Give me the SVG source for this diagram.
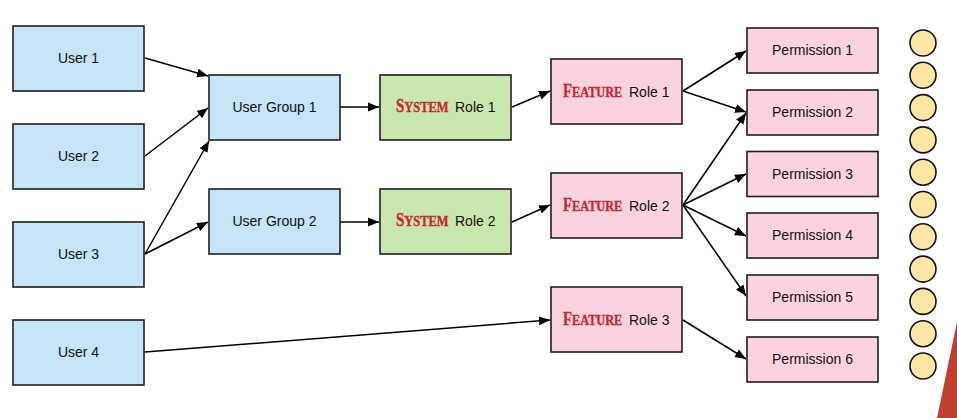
<svg xmlns="http://www.w3.org/2000/svg" width="957" height="418" viewBox="0 0 957 418">
<defs>
<style>
.box{stroke:#1f1f1f;stroke-width:1.6}
.user{fill:#c5e4f6}
.sys{fill:#c9e6ac}
.feat{fill:#f9d2de}
.lbl{font-family:"Liberation Sans",Arial,sans-serif;font-size:14px;fill:#111;text-anchor:middle}
.rl{font-family:"Liberation Sans",Arial,sans-serif;font-size:14px;fill:#111}
.red{font-family:"Liberation Serif","Times New Roman",serif;font-weight:bold;fill:#c42a36;stroke:#c42a36;stroke-width:0.4}
.conn line{stroke:#000;stroke-width:1.5;marker-end:url(#arr)}
.dot{fill:#fde6a3;stroke:#111;stroke-width:1.6}
</style>
<marker id="arr" markerUnits="userSpaceOnUse" markerWidth="12" markerHeight="10" refX="11" refY="4.5" orient="auto" viewBox="0 0 12 9">
<path d="M0,0 L11,4.5 L0,9 z" fill="#000"/>
</marker>
</defs>
<rect width="957" height="418" fill="#fff"/>

<g id="connectors" class="conn">
<line x1="145" y1="58" x2="208" y2="76"/>
<line x1="145" y1="156" x2="208" y2="108"/>
<line x1="145" y1="254" x2="209" y2="141"/>
<line x1="145" y1="254" x2="208" y2="222"/>
<line x1="145" y1="352" x2="550" y2="320"/>
<line x1="340" y1="107" x2="379" y2="107"/>
<line x1="340" y1="222" x2="379" y2="222"/>
<line x1="512" y1="107" x2="550" y2="91"/>
<line x1="512" y1="222" x2="550" y2="205"/>
<line x1="683" y1="91" x2="746" y2="51"/>
<line x1="683" y1="91" x2="746" y2="112"/>
<line x1="683" y1="205" x2="746" y2="113"/>
<line x1="683" y1="205" x2="746" y2="174"/>
<line x1="683" y1="205" x2="746" y2="236"/>
<line x1="683" y1="205" x2="746" y2="296"/>
<line x1="683" y1="320" x2="746" y2="359"/>
</g>

<g id="user1"><rect class="box user" x="13" y="26" width="131" height="65"/><text class="lbl" x="78.5" y="63">User 1</text></g>
<g id="user2"><rect class="box user" x="13" y="124" width="131" height="65"/><text class="lbl" x="78.5" y="161">User 2</text></g>
<g id="user3"><rect class="box user" x="13" y="222" width="131" height="65"/><text class="lbl" x="78.5" y="259">User 3</text></g>
<g id="user4"><rect class="box user" x="13" y="320" width="131" height="65"/><text class="lbl" x="78.5" y="357">User 4</text></g>

<g id="usergroup1"><rect class="box user" x="209" y="75" width="131" height="65"/><text class="lbl" x="274.5" y="112">User Group 1</text></g>
<g id="usergroup2"><rect class="box user" x="209" y="189" width="131" height="65"/><text class="lbl" x="274.5" y="226">User Group 2</text></g>

<g id="systemrole1"><rect class="box sys" x="380" y="75" width="131" height="65"/>
<text class="red" transform="translate(396,112) scale(0.83,1)"><tspan font-size="18">S</tspan><tspan font-size="15">YSTEM</tspan></text>
<text class="rl" x="455" y="112">Role 1</text></g>
<g id="systemrole2"><rect class="box sys" x="380" y="189" width="131" height="65"/>
<text class="red" transform="translate(396,226) scale(0.83,1)"><tspan font-size="18">S</tspan><tspan font-size="15">YSTEM</tspan></text>
<text class="rl" x="455" y="226">Role 2</text></g>

<g id="featurerole1"><rect class="box feat" x="551" y="59" width="131" height="65"/>
<text class="red" transform="translate(563,96.5) scale(0.82,1)"><tspan font-size="18">F</tspan><tspan font-size="15">EATURE</tspan></text>
<text class="rl" x="629" y="96.5">Role 1</text></g>
<g id="featurerole2"><rect class="box feat" x="551" y="173" width="131" height="65"/>
<text class="red" transform="translate(563,210.5) scale(0.82,1)"><tspan font-size="18">F</tspan><tspan font-size="15">EATURE</tspan></text>
<text class="rl" x="629" y="210.5">Role 2</text></g>
<g id="featurerole3"><rect class="box feat" x="551" y="287" width="131" height="65"/>
<text class="red" transform="translate(563,324.5) scale(0.82,1)"><tspan font-size="18">F</tspan><tspan font-size="15">EATURE</tspan></text>
<text class="rl" x="629" y="324.5">Role 3</text></g>

<g id="permission1"><rect class="box feat" x="747" y="28" width="131" height="45"/><text class="lbl" x="812.5" y="55">Permission 1</text></g>
<g id="permission2"><rect class="box feat" x="747" y="90" width="131" height="45"/><text class="lbl" x="812.5" y="117">Permission 2</text></g>
<g id="permission3"><rect class="box feat" x="747" y="151.5" width="131" height="45"/><text class="lbl" x="812.5" y="178.5">Permission 3</text></g>
<g id="permission4"><rect class="box feat" x="747" y="213" width="131" height="45"/><text class="lbl" x="812.5" y="240">Permission 4</text></g>
<g id="permission5"><rect class="box feat" x="747" y="275" width="131" height="45"/><text class="lbl" x="812.5" y="302">Permission 5</text></g>
<g id="permission6"><rect class="box feat" x="747" y="337" width="131" height="45"/><text class="lbl" x="812.5" y="364">Permission 6</text></g>

<g id="dots">
<circle class="dot" cx="923" cy="43" r="13"/>
<circle class="dot" cx="923" cy="75.3" r="13"/>
<circle class="dot" cx="923" cy="107.6" r="13"/>
<circle class="dot" cx="923" cy="139.9" r="13"/>
<circle class="dot" cx="923" cy="172.2" r="13"/>
<circle class="dot" cx="923" cy="204.5" r="13"/>
<circle class="dot" cx="923" cy="236.8" r="13"/>
<circle class="dot" cx="923" cy="269.1" r="13"/>
<circle class="dot" cx="923" cy="301.4" r="13"/>
<circle class="dot" cx="923" cy="333.7" r="13"/>
<circle class="dot" cx="923" cy="366" r="13"/>
</g>
<polygon points="957,322 937,418 957,418" fill="#c0402f"/>
</svg>
